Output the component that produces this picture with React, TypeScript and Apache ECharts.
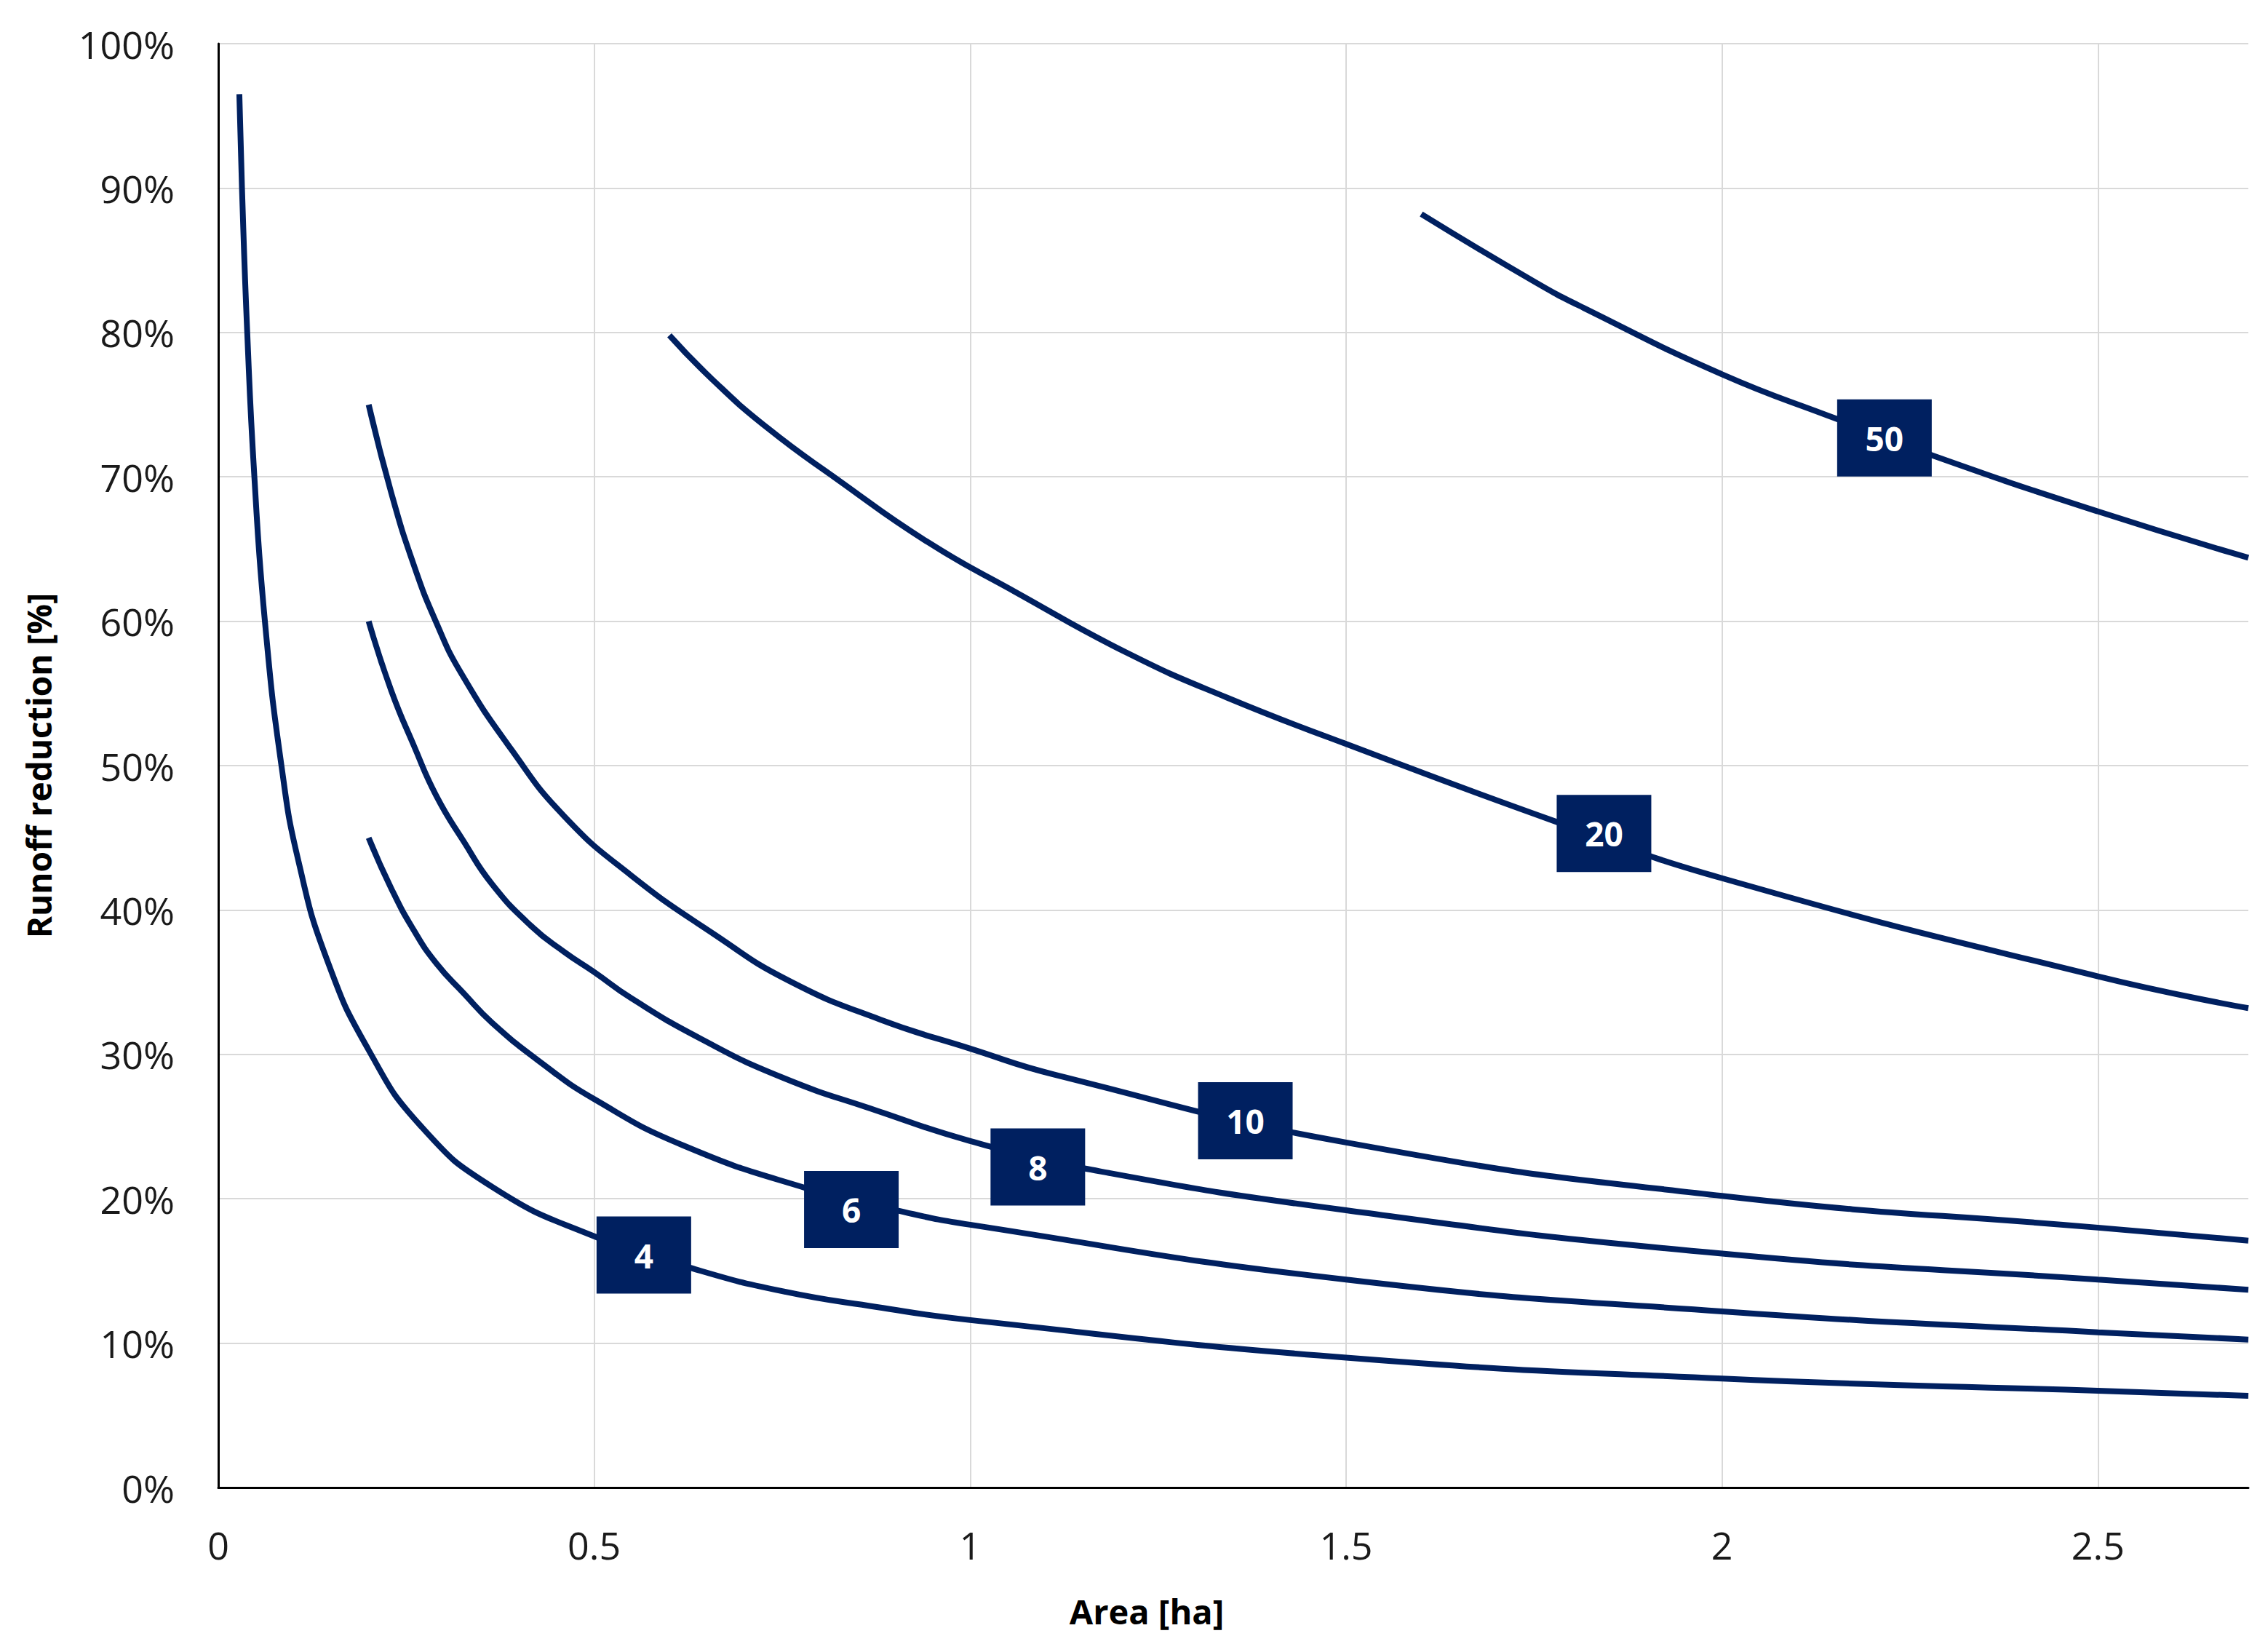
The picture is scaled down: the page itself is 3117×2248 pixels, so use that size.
import React, { useEffect, useRef } from "react";
import * as echarts from "echarts";

// Curve labels
const curveNames = ["4", "6", "8", "10", "20", "50"];

// [area ha, runoff reduction %]
const curve4: number[][] = [
  [0.028, 96.5], [0.0315, 90], [0.0385, 80], [0.048, 70], [0.062, 60], [0.084, 50],
  [0.107, 43.3], [0.145, 36.5], [0.2, 30.3], [0.27, 25], [0.365, 20.8], [0.5, 17.4],
  [0.629, 15.2], [0.75, 13.6], [0.876, 12.5], [1.0, 11.6], [1.5, 9.0], [2.0, 7.55],
  [2.5, 6.7], [2.7, 6.35],
];
const curve6: number[][] = [
  [0.2, 45], [0.23, 41.5], [0.26, 38.6], [0.29, 36.3], [0.327, 34.2], [0.364, 32.2],
  [0.43, 29.4], [0.5, 26.9], [0.618, 23.7], [0.784, 20.7], [0.902, 19.2], [1.0, 18.2],
  [1.5, 14.4], [2.0, 12.2], [2.5, 10.75], [2.7, 10.25],
];
const curve8: number[][] = [
  [0.2, 60], [0.23, 55.2], [0.26, 51.4], [0.29, 47.9], [0.327, 44.7], [0.364, 41.8],
  [0.416, 38.9], [0.46, 37.1], [0.5, 35.7], [0.549, 33.9], [0.641, 31.1], [0.75, 28.4],
  [0.876, 26.1], [1.0, 24.0], [1.152, 22.1], [1.5, 19.2], [2.0, 16.2], [2.5, 14.4],
  [2.7, 13.7],
];
const curve10: number[][] = [
  [0.2, 75], [0.23, 68.9], [0.26, 63.9], [0.29, 59.9], [0.323, 56.4], [0.39, 51.1],
  [0.46, 46.5], [0.549, 42.4], [0.66, 38.3], [0.759, 35.1], [0.881, 32.4], [1.0, 30.4],
  [1.112, 28.6], [1.5, 23.9], [2.0, 20.2], [2.5, 18.0], [2.7, 17.1],
];
const curve20: number[][] = [
  [0.6, 79.8], [0.656, 76.8], [0.73, 73.4], [0.824, 69.8], [0.943, 65.5], [1.061, 62.0],
  [1.209, 57.8], [1.342, 54.7], [1.5, 51.5], [1.78, 46.1], [2.0, 42.2], [2.5, 35.4],
  [2.7, 33.2],
];
const curve50: number[][] = [
  [1.6, 88.2], [1.751, 83.5], [1.816, 81.7], [2.0, 77.1], [2.153, 74.0], [2.279, 71.5],
  [2.5, 67.6], [2.7, 64.4],
];
const curves = [curve4, curve6, curve8, curve10, curve20, curve50];

// label box positions (data coordinates)
const labelX = [0.566, 0.842, 1.09, 1.366, 1.843, 2.216];
const labelY = [16.1, 19.25, 22.2, 25.4, 45.3, 72.7];

const NAVY = "#002060";
const FONT = "Open Sans";

export default function App() {
  const ref = useRef<HTMLDivElement>(null);

  useEffect(() => {
    document.body.style.margin = "0";
    if (!ref.current) return;
    const chart = echarts.init(ref.current, undefined, { renderer: "svg" });
    const lineSeries = curves.map((d, i) => ({
      type: "line",
      name: curveNames[i],
      data: d,
      smooth: 0.5,
      showSymbol: false,
      symbol: "none",
      lineStyle: { color: NAVY, width: 8 },
      z: 3,
    }));
    chart.setOption({
      animation: false,
      backgroundColor: "#ffffff",
      grid: { left: 300, right: 27, top: 60, bottom: 204 },
      xAxis: {
        type: "value",
        min: 0,
        max: 2.7,
        interval: 0.5,
        axisLine: { show: true, lineStyle: { color: "#000000", width: 3 } },
        axisTick: { show: false },
        axisLabel: {
          margin: 52,
          fontSize: 52,
          color: "#1a1a1a",
          fontFamily: FONT,
          showMaxLabel: false,
        },
        splitLine: { show: true, showMaxLine: false, lineStyle: { color: "#d9d9d9", width: 2 } },
      },
      yAxis: {
        type: "value",
        min: 0,
        max: 100,
        interval: 10,
        axisLine: { show: true, lineStyle: { color: "#000000", width: 3 } },
        axisTick: { show: false },
        axisLabel: {
          formatter: "{value}%",
          margin: 60,
          fontSize: 52,
          color: "#1a1a1a",
          fontFamily: FONT,
        },
        splitLine: { show: true, lineStyle: { color: "#d9d9d9", width: 2 } },
        name: "Runoff reduction [%]",
        nameLocation: "middle",
        nameGap: 224,
        nameTextStyle: { fontSize: 46, fontWeight: "bold", fontFamily: FONT, color: "#000000" },
      },
      graphic: [
        {
          type: "text",
          x: 1576,
          y: 2214,
          style: {
            text: "Area [ha]",
            fontSize: 47,
            fontWeight: "bold",
            fontFamily: FONT,
            fill: "#000000",
            align: "center",
            verticalAlign: "middle",
          },
        },
      ],
      series: [
        ...lineSeries,
        {
          type: "scatter",
          name: "labels",
          data: labelX.map((x, i) => ({ value: [x, labelY[i]], name: curveNames[i] })),
          symbol: "rect",
          symbolSize: [130, 106],
          itemStyle: { color: NAVY, opacity: 1 },
          label: {
            show: true,
            position: "inside",
            formatter: "{b}",
            color: "#ffffff",
            fontSize: 46,
            fontWeight: "bold",
            fontFamily: FONT,
          },
          z: 10,
        },
      ],
    });
    return () => chart.dispose();
  }, []);

  return <div ref={ref} style={{ width: 3117, height: 2248 }} />;
}
